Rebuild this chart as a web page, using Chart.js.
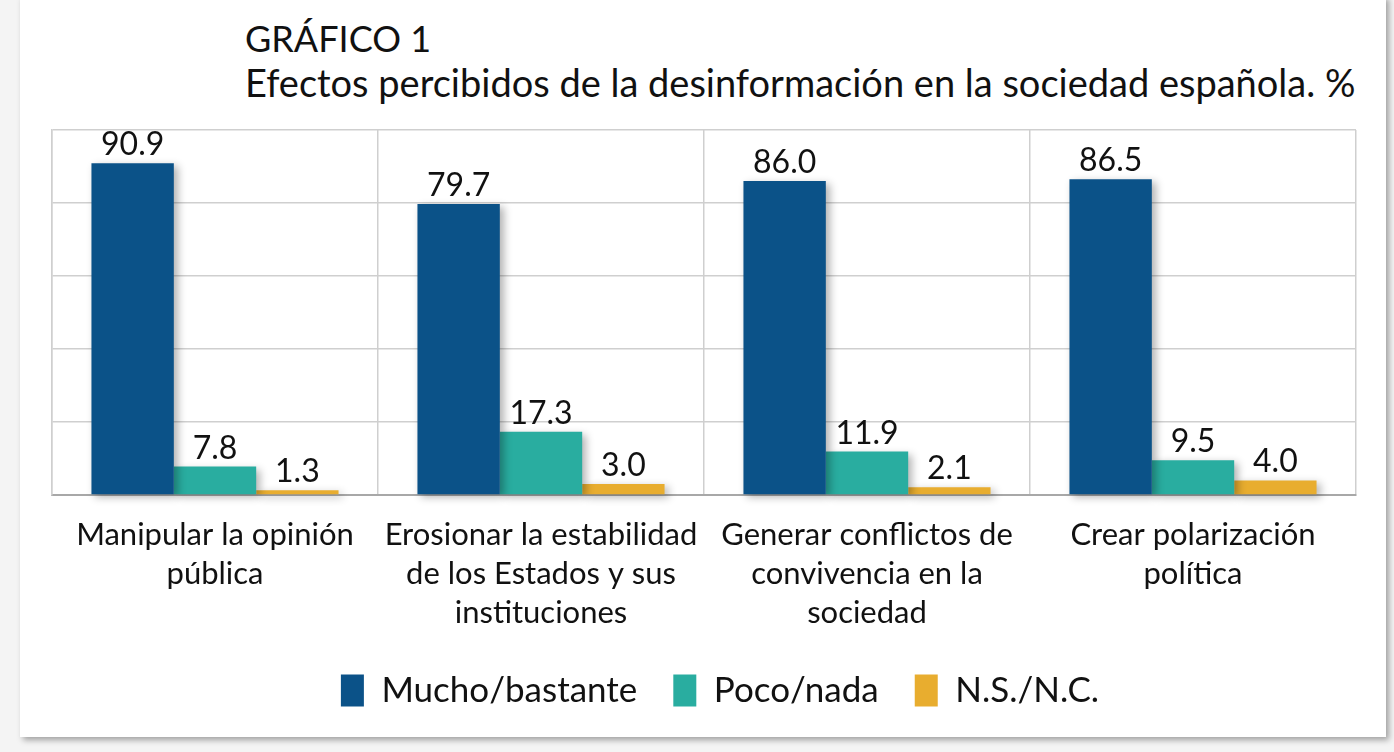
<!DOCTYPE html>
<html>
<head>
<meta charset="utf-8">
<script src="https://cdn.jsdelivr.net/npm/chart.js@4.4.1/dist/chart.umd.min.js"></script>
<style>
  html, body { margin: 0; padding: 0; background: #f4f4f4; }
  body { width: 1394px; height: 752px; position: relative; overflow: hidden; font-family: Lato, sans-serif; }
  .card { position: absolute; left: 20px; top: -4px; width: 1366px; height: 741px; background: #fff;
          box-shadow: 3px 3px 6px rgba(0,0,0,0.35); }
  .t1 { position: absolute; left: 245px; top: 16px; font-size: 36px; line-height: 45px; color: #111; white-space: nowrap; }
  .t2 { position: absolute; left: 245px; top: 60px; font-size: 38px; line-height: 45px; color: #111; white-space: nowrap; }
  #wrap { position: absolute; left: 20px; top: 100px; width: 1366px; height: 618px; }
</style>
</head>
<body>
<div class="card"></div>
<div class="t1">GRÁFICO 1</div>
<div class="t2">Efectos percibidos de la desinformación en la sociedad española. %</div>
<div id="wrap"><canvas id="grafico"></canvas></div>
<script>
// datos del gráfico
const categorias = [
  ['Manipular la opinión', 'pública'],
  ['Erosionar la estabilidad', 'de los Estados y sus', 'instituciones'],
  ['Generar conflictos de', 'convivencia en la', 'sociedad'],
  ['Crear polarización', 'política']
];
const muchoBastante = [90.9, 79.7, 86.0, 86.5];
const pocoNada = [7.8, 17.3, 11.9, 9.5];
const nsnc = [1.3, 3.0, 2.1, 4.0];
const ticksY = [0, 20, 40, 60, 80, 100];

// sombra de las barras
const sombra = {
  id: 'sombra',
  beforeDatasetsDraw(chart) {
    const c = chart.ctx;
    c.save();
    c.shadowColor = 'rgba(0,0,0,0.3)';
    c.shadowBlur = 8;
    c.shadowOffsetX = 4;
    c.shadowOffsetY = 3;
  },
  afterDatasetsDraw(chart) {
    chart.ctx.restore();
  }
};

// etiquetas de valor encima de cada barra
const etiquetas = {
  id: 'etiquetas',
  afterDatasetsDraw(chart) {
    const c = chart.ctx;
    c.save();
    c.font = '32px Lato';
    c.fillStyle = '#111';
    c.textAlign = 'center';
    c.textBaseline = 'alphabetic';
    chart.data.datasets.forEach((ds, i) => {
      chart.getDatasetMeta(i).data.forEach((bar, j) => {
        c.fillText(ds.data[j].toFixed(1), bar.x, bar.y - 8);
      });
    });
    c.restore();
  }
};

// la leyenda va un poco desplazada a la derecha en el original
const moverLeyenda = {
  id: 'moverLeyenda',
  afterLayout(chart) {
    chart.legend.left += 16;
    chart.legend.right += 16;
  }
};

new Chart(document.getElementById('grafico'), {
  type: 'bar',
  data: {
    labels: categorias,
    datasets: [
      { label: 'Mucho/bastante', data: muchoBastante, backgroundColor: '#0b5288' },
      { label: 'Poco/nada', data: pocoNada, backgroundColor: '#29ada0' },
      { label: 'N.S./N.C.', data: nsnc, backgroundColor: '#e8ad2f' }
    ]
  },
  options: {
    responsive: true,
    maintainAspectRatio: false,
    animation: false,
    datasets: { bar: { barPercentage: 1, categoryPercentage: 0.758, clip: false } },
    layout: { padding: { top: 30, left: 32, right: 30, bottom: 0 } },
    plugins: {
      legend: {
        position: 'bottom',
        labels: {
          font: { family: 'Lato', size: 35 },
          color: '#111',
          boxWidth: 23,
          boxHeight: 32,
          padding: 36
        }
      },
      tooltip: { enabled: false }
    },
    scales: {
      x: {
        grid: { color: '#cfcfcf', lineWidth: 1.5, drawTicks: false, offset: true },
        border: { color: '#a8a8a8', width: 2 },
        ticks: { font: { family: 'Lato', size: 31, lineHeight: 1.27 }, color: '#111', padding: 20, maxRotation: 0 },
        afterFit(axis) { axis.height = 142; }
      },
      y: {
        min: 0,
        max: 100,
        afterBuildTicks(axis) { axis.ticks = ticksY.map(v => ({ value: v })); },
        grid: { color: '#cfcfcf', lineWidth: 1.5, drawTicks: false },
        border: { color: '#cfcfcf', width: 1.5 },
        ticks: { display: false }
      }
    }
  },
  plugins: [sombra, etiquetas, moverLeyenda]
});
</script>
</body>
</html>
